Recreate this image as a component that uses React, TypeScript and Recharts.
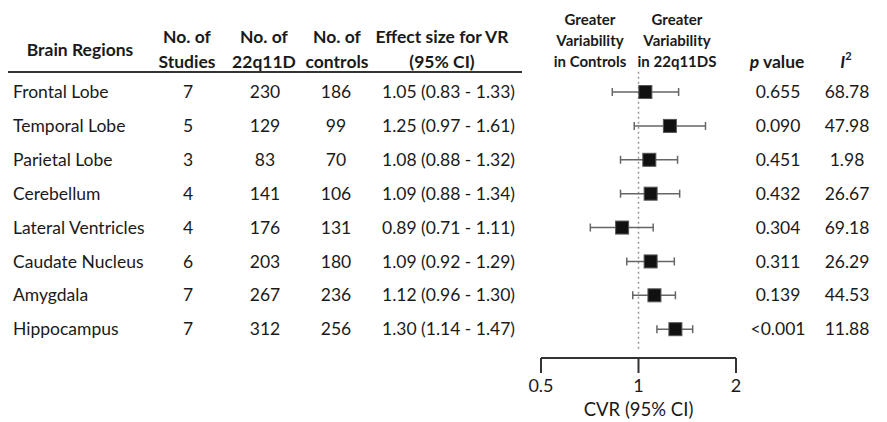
import React from 'react';
import { ScatterChart, Scatter, XAxis, YAxis, ErrorBar, ReferenceLine } from 'recharts';

const regions = [
  'Frontal Lobe',
  'Temporal Lobe',
  'Parietal Lobe',
  'Cerebellum',
  'Lateral Ventricles',
  'Caudate Nucleus',
  'Amygdala',
  'Hippocampus',
];
const studies = [7, 5, 3, 4, 4, 6, 7, 7];
const n22q = [230, 129, 83, 141, 176, 203, 267, 312];
const nControls = [186, 99, 70, 106, 131, 180, 236, 256];
const cvr = [1.05, 1.25, 1.08, 1.09, 0.89, 1.09, 1.12, 1.3];
const ciLow = [0.83, 0.97, 0.88, 0.88, 0.71, 0.92, 0.96, 1.14];
const ciHigh = [1.33, 1.61, 1.32, 1.34, 1.11, 1.29, 1.3, 1.47];
const pValues = ['0.655', '0.090', '0.451', '0.432', '0.304', '0.311', '0.139', '<0.001'];
const iSquared = ['68.78', '47.98', '1.98', '26.67', '69.18', '26.29', '44.53', '11.88'];
const xTicks = [0.5, 1, 2];

const rows = regions.map((region, i) => ({
  idx: i,
  region,
  cvr: cvr[i],
  err: [cvr[i] - ciLow[i], ciHigh[i] - cvr[i]],
}));

const FONT = 'Lato, "Open Sans", sans-serif';
const TEXT = '#1a1a1a';
const BODY_SIZE = 17.5;

// one table row, drawn at the y of the matching tick
const RowTick = (props: any) => {
  const { y, payload } = props;
  const i = payload.value as number;
  if (i < 0 || i >= regions.length) return null;
  const common = { y, dy: '0.35em', fill: TEXT, fontSize: BODY_SIZE, fontFamily: FONT };
  const effect = `${cvr[i].toFixed(2)} (${ciLow[i].toFixed(2)} - ${ciHigh[i].toFixed(2)})`;
  return (
    <g>
      <text {...common} x={13} textAnchor="start">{regions[i]}</text>
      <text {...common} x={188} textAnchor="middle">{studies[i]}</text>
      <text {...common} x={265} textAnchor="middle">{n22q[i]}</text>
      <text {...common} x={336} textAnchor="middle">{nControls[i]}</text>
      <text {...common} x={382} textAnchor="start">{effect}</text>
      <text {...common} x={778} textAnchor="middle">{pValues[i]}</text>
      <text {...common} x={847} textAnchor="middle">{iSquared[i]}</text>
    </g>
  );
};

const Square = (props: any) => {
  const { cx, cy } = props;
  return <rect x={cx - 6.5} y={cy - 6.5} width={13} height={13} fill="#111" stroke="#555" strokeWidth={1} />;
};

const Header = () => {
  const h = { fontFamily: FONT, fontWeight: 700, fill: TEXT, textAnchor: 'middle' as const };
  return (
    <svg width={887} height={422} style={{ position: 'absolute', left: 0, top: 0, pointerEvents: 'none' }}>
      <text {...h} x={80} y={56} fontSize={17.5}>Brain Regions</text>
      <text {...h} x={187} y={43} fontSize={17.5}>No. of</text>
      <text {...h} x={187} y={68} fontSize={17.5}>Studies</text>
      <text {...h} x={264} y={43} fontSize={17.5}>No. of</text>
      <text {...h} x={264} y={68} fontSize={17.5}>22q11D</text>
      <text {...h} x={337} y={43} fontSize={17.5}>No. of</text>
      <text {...h} x={337} y={68} fontSize={17.5}>controls</text>
      <text {...h} x={442} y={43} fontSize={17.5}>Effect size for VR</text>
      <text {...h} x={442} y={68} fontSize={17.5}>(95% CI)</text>
      <text {...h} x={590} y={25} fontSize={15}>Greater</text>
      <text {...h} x={590} y={46} fontSize={15}>Variability</text>
      <text {...h} x={590} y={67} fontSize={15}>in Controls</text>
      <text {...h} x={677} y={25} fontSize={15}>Greater</text>
      <text {...h} x={677} y={46} fontSize={15}>Variability</text>
      <text {...h} x={677} y={67} fontSize={15}>in 22q11DS</text>
      <text {...h} x={777} y={68} fontSize={17.5}>
        <tspan fontStyle="italic">p</tspan> value
      </text>
      <text {...h} x={846} y={68} fontSize={17.5}>
        <tspan fontStyle="italic">I</tspan>
        <tspan fontSize={11} dy={-8}>2</tspan>
      </text>
      <line x1={8} x2={522} y1={72} y2={72} stroke="#333" strokeWidth={2} />
    </svg>
  );
};

export default function App() {
  return (
    <div style={{ position: 'absolute', left: 0, top: 0, width: 887, height: 422, background: '#fff' }}>
      <ScatterChart width={887} height={422} margin={{ top: 71.7, right: 151, bottom: 0, left: 0 }}>
        <XAxis
          type="number"
          dataKey="cvr"
          scale="log"
          domain={[0.5, 2]}
          ticks={xTicks}
          allowDataOverflow
          height={64}
          tickSize={15}
          tickMargin={6}
          stroke="#333"
          strokeWidth={2}
          tick={{ fill: TEXT, fontSize: 18, fontFamily: FONT }}
          label={{ value: 'CVR (95% CI)', position: 'insideBottom', offset: 6, fill: TEXT, fontSize: 18.5, fontFamily: FONT }}
        />
        <YAxis
          type="number"
          dataKey="idx"
          domain={[-0.6, 7.85]}
          reversed
          ticks={[0, 1, 2, 3, 4, 5, 6, 7]}
          interval={0}
          width={541}
          axisLine={false}
          tickLine={false}
          tick={<RowTick />}
        />
        <ReferenceLine
          segment={[{ x: 1, y: -0.6 }, { x: 1, y: 7.65 }]}
          stroke="#999"
          strokeWidth={1.5}
          strokeDasharray="2 3"
        />
        <Scatter data={rows} shape={<Square />} isAnimationActive={false}>
          <ErrorBar dataKey="err" direction="x" width={4} stroke="#666" strokeWidth={1.5} />
        </Scatter>
      </ScatterChart>
      <Header />
    </div>
  );
}
